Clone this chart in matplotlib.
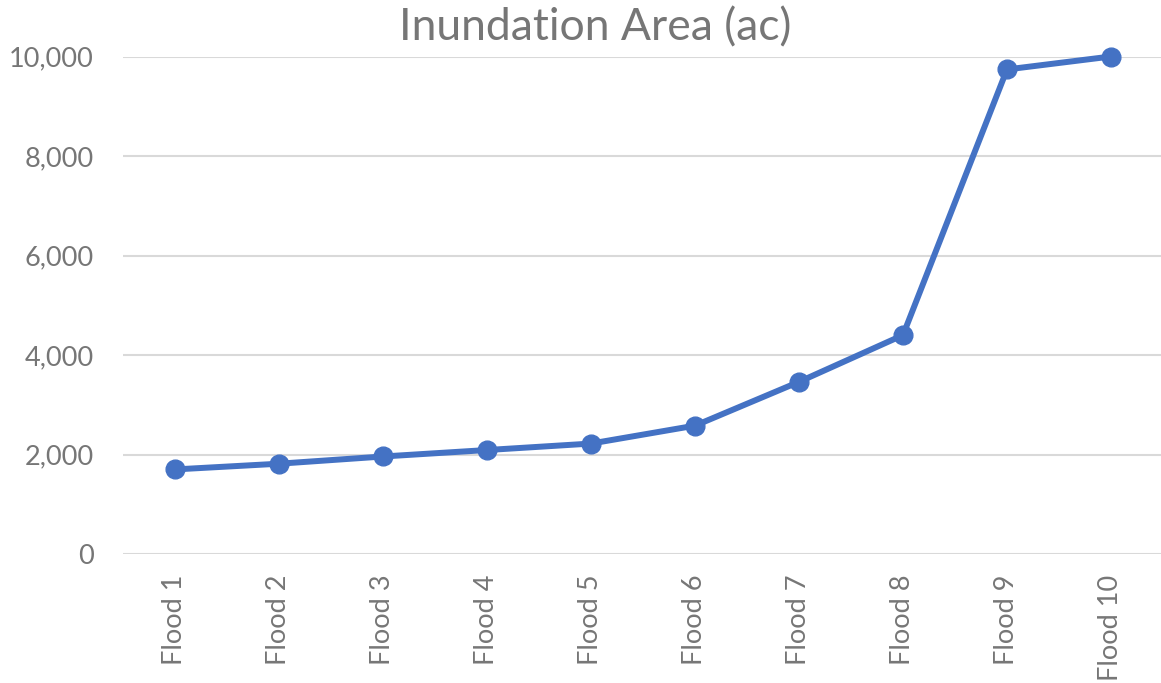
import matplotlib
matplotlib.use("Agg")
import matplotlib.pyplot as plt
from matplotlib.ticker import FuncFormatter

categories = ["Flood 1", "Flood 2", "Flood 3", "Flood 4", "Flood 5",
              "Flood 6", "Flood 7", "Flood 8", "Flood 9", "Flood 10"]
area_ac = [1700, 1815, 1960, 2090, 2220, 2580, 3460, 4400, 9740, 10000]
y_ticks = [0, 2000, 4000, 6000, 8000, 10000]

plt.rcParams['font.family'] = ['Lato', 'DejaVu Sans']
text_color = "#767676"

fig = plt.figure(figsize=(11.61, 6.83), dpi=100)
ax = fig.add_axes([123/1161, (683-554)/683, 1040/1161, (554-56.5)/683])

x = list(range(len(categories)))
ax.plot(x, area_ac, color="#4472C4", linewidth=4.3, marker="o",
        markersize=13.5, clip_on=False, zorder=3, solid_capstyle="round",
        solid_joinstyle="round")

ax.set_xlim(-0.5, len(categories) - 0.5)
ax.set_ylim(0, 10000)
ax.set_yticks(y_ticks)
ax.yaxis.set_major_formatter(FuncFormatter(lambda v, p: f"{int(v):,}"))
ax.set_xticks(x)
ax.set_xticklabels(categories, rotation=90, va="top", ha="center")

ax.grid(axis="y", color="#d9d9d9", linewidth=1.5)
ax.set_axisbelow(True)
for s in ax.spines.values():
    s.set_visible(False)
ax.tick_params(axis="both", length=0, colors=text_color, labelsize=19.5)
ax.tick_params(axis="y", pad=21)
ax.tick_params(axis="x", pad=15)

fig.text(595/1161, 1 - 28/683, "Inundation Area (ac)", ha="center", va="center",
         fontsize=32, color=text_color)

fig.savefig("out.png", dpi=100)
